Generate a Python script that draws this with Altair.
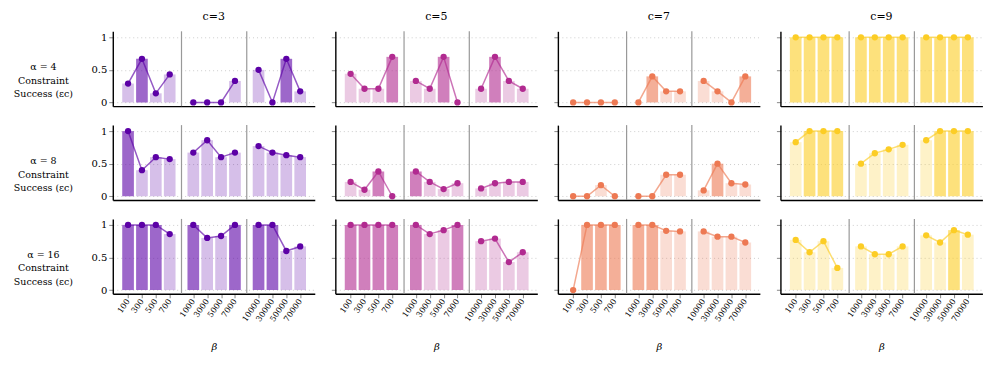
import altair as alt
import pandas as pd

alphas = [4, 8, 16]
cs = [3, 5, 7, 9]
beta_groups = [[100, 300, 500, 700], [1000, 3000, 5000, 7000], [10000, 30000, 50000, 70000]]
colors = ["#5c01a6", "#b12a90", "#ed7953", "#fccd25"]

# constraint success values, 12 per panel (3 beta groups x 4)
a4_c3 = [0.29, 0.67, 0.14, 0.43, 0.0, 0.0, 0.0, 0.33, 0.50, 0.0, 0.67, 0.17]
a4_c5 = [0.44, 0.21, 0.21, 0.70, 0.33, 0.21, 0.70, 0.0, 0.21, 0.70, 0.33, 0.21]
a4_c7 = [0.0, 0.0, 0.0, 0.0, 0.0, 0.40, 0.17, 0.17, 0.33, 0.17, 0.0, 0.40]
a4_c9 = [1.0, 1.0, 1.0, 1.0, 1.0, 1.0, 1.0, 1.0, 1.0, 1.0, 1.0, 1.0]

a8_c3 = [1.0, 0.40, 0.60, 0.57, 0.67, 0.86, 0.60, 0.67, 0.77, 0.67, 0.63, 0.60]
a8_c5 = [0.22, 0.10, 0.38, 0.0, 0.38, 0.22, 0.11, 0.20, 0.12, 0.20, 0.22, 0.22]
a8_c7 = [0.0, 0.0, 0.17, 0.0, 0.0, 0.0, 0.33, 0.33, 0.09, 0.50, 0.20, 0.18]
a8_c9 = [0.83, 1.0, 1.0, 1.0, 0.50, 0.66, 0.72, 0.79, 0.86, 1.0, 1.0, 1.0]

a16_c3 = [1.0, 1.0, 1.0, 0.86, 1.0, 0.80, 0.83, 1.0, 1.0, 1.0, 0.60, 0.67]
a16_c5 = [1.0, 1.0, 1.0, 1.0, 1.0, 0.86, 0.92, 1.0, 0.75, 0.79, 0.43, 0.58]
a16_c7 = [0.0, 1.0, 1.0, 1.0, 1.0, 1.0, 0.91, 0.90, 0.90, 0.82, 0.82, 0.73]
a16_c9 = [0.77, 0.58, 0.75, 0.34, 0.67, 0.55, 0.55, 0.67, 0.84, 0.73, 0.92, 0.85]

values = {
    (4, 3): a4_c3, (4, 5): a4_c5, (4, 7): a4_c7, (4, 9): a4_c9,
    (8, 3): a8_c3, (8, 5): a8_c5, (8, 7): a8_c7, (8, 9): a8_c9,
    (16, 3): a16_c3, (16, 5): a16_c5, (16, 7): a16_c7, (16, 9): a16_c9,
}

STEP = 10      # bar pitch (x units)
GSTEP = 47     # group pitch (x units)
positions = [g * GSTEP + i * STEP for g in range(3) for i in range(4)]
beta_labels = [str(b) for grp in beta_groups for b in grp]
separators = [(g * GSTEP + 3 * STEP + (g + 1) * GSTEP) / 2 for g in range(2)]

label_expr = "[" + ",".join("'%s'" % s for s in beta_labels) + "][indexof([" + \
    ",".join(str(p) for p in positions) + "], datum.value)]"

W, H = 202.4, 75
xscale = alt.Scale(domain=[-11, 134.5], nice=False, zero=False)
yscale = alt.Scale(domain=[-0.057, 1.092], nice=False, zero=False)
FONT = "DejaVu Serif"

panels = []
for ri, a in enumerate(alphas):
    for ci, c in enumerate(cs):
        vals = values[(a, c)]
        vmax = max(vals)
        rows = []
        for k, v in enumerate(vals):
            rows.append({"group": k // 4, "beta": beta_labels[k], "pos": positions[k],
                         "value": v, "is_max": abs(v - vmax) < 1e-9})
        df = pd.DataFrame(rows)
        col = colors[ci]
        bottom = ri == len(alphas) - 1
        if bottom:
            xaxis = alt.Axis(values=positions, labelExpr=label_expr, labelAngle=305,
                             labelFontSize=8, labelPadding=2, labelOverlap=False,
                             labelFlush=False, labelBound=False, ticks=True, tickSize=4,
                             grid=False, title="β", titleFontSize=10, titleFontWeight="normal",
                             titleY=53, titleBaseline="middle", titleFontStyle="italic",
                             domain=True, domainColor="black", domainWidth=1.4)
        else:
            xaxis = alt.Axis(values=[], labels=False, ticks=False, grid=False, title=None,
                             domain=True, domainColor="black", domainWidth=1.4)
        if ci == 0:
            yaxis = alt.Axis(values=[0, 0.5, 1], format="~g", grid=True, gridDash=[1, 3],
                             gridColor="#c8c8c8", gridWidth=0.9, labels=True, labelFontSize=10,
                             tickSize=4, title=["α = %d" % a, "Constraint", "Success (εc)"],
                             titleAngle=0, titleAlign="center", titleBaseline="middle",
                             titleX=-70, titleY=H / 2 - 2, titleFontSize=9.5,
                             titleFontWeight="normal", titleLineHeight=13.5,
                             domain=True, domainColor="black", domainWidth=1.4)
        else:
            yaxis = alt.Axis(values=[0, 0.5, 1], grid=True, gridDash=[1, 3], gridColor="#c8c8c8",
                             gridWidth=0.9, labels=False, tickSize=4, title=None,
                             domain=True, domainColor="black", domainWidth=1.4)

        base = alt.Chart(df)
        bars = base.mark_bar(color=col).transform_calculate(
            x0="datum.pos - 4.2", x1="datum.pos + 4.2"
        ).encode(
            x=alt.X("x0:Q", scale=xscale, axis=xaxis),
            x2="x1:Q",
            y=alt.Y("value:Q", scale=yscale, axis=yaxis),
            y2=alt.datum(0),
            opacity=alt.condition("datum.is_max", alt.value(0.6), alt.value(0.25)),
        )
        line = base.mark_line(color=col, strokeWidth=1.5, opacity=0.65).encode(
            x=alt.X("pos:Q", scale=xscale, axis=xaxis),
            y=alt.Y("value:Q", scale=yscale, axis=yaxis),
            detail="group:N",
        )
        pts = base.mark_circle(color=col, size=40, opacity=1).encode(
            x=alt.X("pos:Q", scale=xscale, axis=xaxis),
            y=alt.Y("value:Q", scale=yscale, axis=yaxis),
        )
        seps = alt.Chart(pd.DataFrame({"sep": separators})).mark_rule(
            color="#999999", strokeWidth=1.2
        ).encode(x=alt.X("sep:Q", scale=xscale, axis=xaxis))
        layer = alt.layer(seps, bars, line, pts).properties(
            width=W, height=H, view=alt.ViewBackground(stroke="transparent", strokeWidth=0))
        if ri == 0:
            layer = layer.properties(title=alt.TitleParams("c=%d" % c, fontSize=11, font=FONT,
                                                           fontWeight="normal", offset=9))
        panels.append(layer)

chart = alt.concat(*panels, columns=4, spacing={"row": 19, "column": 20}, bounds="flush",
                   padding={"left": 5, "top": 2, "right": 5, "bottom": 5}).configure_view(
    stroke="transparent", strokeWidth=0
).configure_axis(
    domainColor="black", domainWidth=1.4, tickColor="black", tickWidth=1,
    labelFont=FONT, titleFont=FONT, labelColor="black", titleColor="black",
).configure(font=FONT)

chart.save("out.html", embed_options={"renderer": "svg", "actions": False})
